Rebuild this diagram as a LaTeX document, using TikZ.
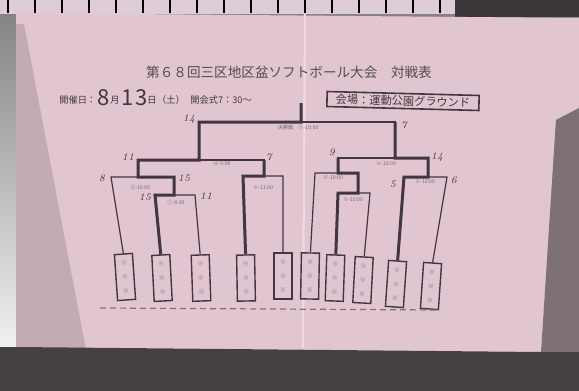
\documentclass[tikz,border=0pt]{standalone}
\usepackage{fontspec}
\newfontfamily\jpfont{Noto Sans CJK JP}
\usepackage{tikz}
\usetikzlibrary{calc}
\definecolor{paper}{RGB}{225,198,209}
\definecolor{ink}{RGB}{66,55,62}
\definecolor{shade}{RGB}{100,90,96}
\definecolor{wall}{RGB}{222,205,215}

\begin{document}
\begin{tikzpicture}[x=0.5pt,y=-0.5pt,
    team/.style={draw=ink,line width=0.7pt,fill=paper,minimum width=9pt,minimum height=23pt,inner sep=0pt,align=center,font=\jpfont\fontsize{3.2}{7}\selectfont,text=ink!70},
    bline/.style={ink,line width=0.6pt},
    wline/.style={ink,line width=1.5pt},
    score/.style={ink,inner sep=0pt,font=\itshape\fontsize{5}{5}\selectfont},
    timing/.style={ink!75,inner sep=0pt,font=\jpfont\fontsize{2.6}{3}\selectfont},
    small/.style={ink,inner sep=0pt,font=\jpfont\fontsize{4.6}{5}\selectfont},
    big/.style={ink,inner sep=0pt,font=\jpfont\fontsize{11}{11}\selectfont}]
\useasboundingbox (0,0) rectangle (579,391);
\fill[shade] (0,0) rectangle (579,391);
\fill[wall] (0,0) rectangle (455,14);
\foreach \x in {8,35,...,440}
  \draw[shade,line width=1.2pt] (\x,0) -- (\x,13);
\fill[shade!60!black] (455,0) rectangle (579,17);
\fill[paper] (16,13) -- (579,18) -- (579,108) -- (556,120) -- (541,352) -- (16,347) -- cycle;
\fill[paper!75!shade] (16,24) -- (24,24) -- (86,350) -- (16,347) -- cycle;
\fill[shade!80!paper] (579,108) -- (556,120) -- (541,352) -- (579,352) -- cycle;
\fill[shade!70!black] (0,347) -- (16,347) -- (541,352) -- (579,352) -- (579,391) -- (0,391) -- cycle;
\draw[paper!60!white,line width=1pt] (305,14) -- (303,348);

\node[ink!90,font=\jpfont\fontsize{6.8}{7}\selectfont] (title) at (289,72) {第６８回三区地区盆ソフトボール大会　対戦表};
\node[small,anchor=west] (held) at (59,100) {開催日：};
\node[big] (m8) at (104,98) {8};
\node[small] (mon) at (115,100) {月};
\node[big] (d1) at (128,98) {1};
\node[big] (d3) at (142,98) {3};
\node[small] (day) at (152,100) {日};
\node[small] (sat) at (171,100) {（土）};
\node[small,anchor=west] (open) at (190,100) {開会式7：30～};
\node[draw=ink,line width=0.8pt,rotate=-1.5,minimum width=76pt,minimum height=7.5pt,inner sep=0pt,text=ink,font=\jpfont\fontsize{5.6}{6}\selectfont] (venue) at (403,101) {会場：運動公園グラウンド};

\foreach \n/\x/\y/\r in {1/125/277/4, 2/162/278/3, 3/201/278/2, 4/246/278/1, 5/283/276/0,
    6/310/276/-1, 7/335/278/-2, 8/363/280/-3, 9/396/284/-4, 10/431/286/-4}
  \node[team,rotate=\r] (t\n) at (\x,\y) {※\\※\\※};

\coordinate (mAl) at (155,195); \coordinate (mAr) at (195,195); \coordinate (mAs) at (174,195);
\coordinate (mBl) at (111,177); \coordinate (mBr) at (174,177); \coordinate (mBs) at (138,177);
\coordinate (mCl) at (243,176); \coordinate (mCr) at (283,176); \coordinate (mCs) at (264,176);
\coordinate (mDl) at (138,160); \coordinate (mDr) at (264,160); \coordinate (mDs) at (199,160);
\coordinate (mEl) at (338,193); \coordinate (mEr) at (370,193); \coordinate (mEs) at (358,193);
\coordinate (mFl) at (315,173); \coordinate (mFr) at (358,173); \coordinate (mFs) at (338,173);
\coordinate (mGl) at (404,177); \coordinate (mGr) at (447,177); \coordinate (mGs) at (428,177);
\coordinate (mHl) at (338,158); \coordinate (mHr) at (428,158); \coordinate (mHs) at (395,158);
\coordinate (finl) at (199,122); \coordinate (finr) at (395,122); \coordinate (fins) at (301,122);
\coordinate (top) at (301,103);

\draw[bline] (t2.north) -- (mAl) -- (mAr) -- (t3.north);
\draw[bline] (t1.north) -- (mBl) -- (mBr) -- (mAs);
\draw[bline] (t4.north) -- (mCl) -- (mCr) -- (t5.north);
\draw[bline] (mBs) -- (mDl) -- (mDr) -- (mCs);
\draw[bline] (t7.north) -- (mEl) -- (mEr) -- (t8.north);
\draw[bline] (t6.north) -- (mFl) -- (mFr) -- (mEs);
\draw[bline] (t9.north) -- (mGl) -- (mGr) -- (t10.north);
\draw[bline] (mFs) -- (mHl) -- (mHr) -- (mGs);
\draw[bline] (mDs) -- (finl) -- (finr) -- (mHs);

\draw[wline] (t2.north) -- (mAl) -- (mAs) -- (mBr) -- (mBs) -- (mDl) -- (mDs) -- (finl) -- (fins) -- (top);
\draw[wline] (t4.north) -- (mCl) -- (mCs) -- (mDr);
\draw[wline] (t7.north) -- (mEl) -- (mEs) -- (mFr) -- (mFs) -- (mHl);
\draw[wline] (t9.north) -- (mGl) -- (mGs) -- (mHr) -- (mHs) -- (finr);

\node[score] (sF1) at (189,119) {14};
\node[score] (sF2) at (404,125) {7};
\node[score] (sD1) at (128,157) {11};
\node[score] (sD2) at (269,157) {7};
\node[score] (sB1) at (102,178) {8};
\node[score] (sB2) at (184,178) {15};
\node[score] (sA1) at (145,197) {15};
\node[score] (sA2) at (206,196) {11};
\node[score] (sH1) at (332,152) {9};
\node[score] (sH2) at (437,157) {14};
\node[score] (sG1) at (393,184) {5};
\node[score] (sG2) at (454,180) {6};

\node[timing] (tF) at (298,128) {決勝戦　①-10:00};
\node[timing] (tD) at (222,164) {④-9:00};
\node[timing] (tB) at (140,188) {②-10:00};
\node[timing] (tA) at (176,203) {①-8:30};
\node[timing] (tC) at (263,188) {※-11:00};
\node[timing] (tH) at (386,164) {※-10:00};
\node[timing] (tFm) at (333,178) {※-10:00};
\node[timing] (tE) at (353,200) {※-10:00};
\node[timing] (tG) at (425,182) {※-10:00};

\draw[ink!70,line width=0.6pt,dash pattern=on 3pt off 2pt] (100,308) -- (440,310);
\end{tikzpicture}
\end{document}
